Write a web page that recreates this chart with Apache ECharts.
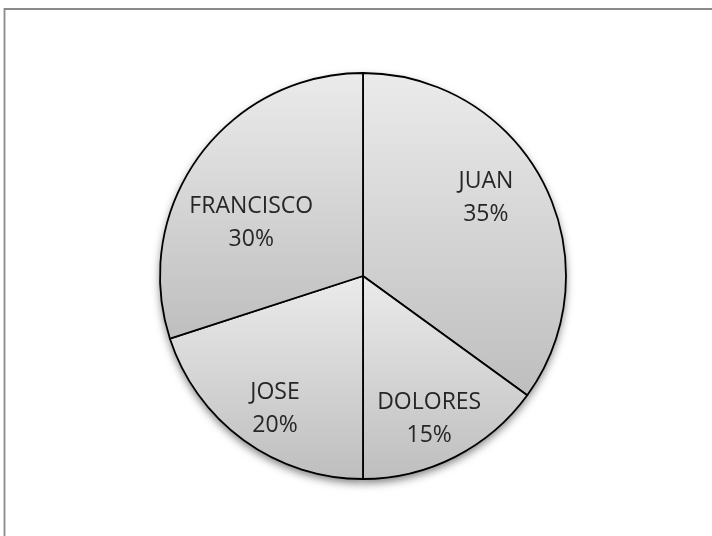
<!DOCTYPE html>
<html>
<head>
<meta charset="utf-8">
<script src="https://cdn.jsdelivr.net/npm/echarts@6/dist/echarts.min.js"></script>
<style>
html,body{margin:0;padding:0;background:#fff;}
#chart{width:712px;height:536px;}
</style>
</head>
<body>
<div id="chart"></div>
<script>
// Data
var names = ['JUAN', 'DOLORES', 'JOSE', 'FRANCISCO'];
var values = [35, 15, 20, 30];

// Label nudges (styling only)
var labelNudge = [[-9, -11], [-1, 11], [-1, 13], [8, 34]];

var chart = echarts.init(document.getElementById('chart'), null, {renderer: 'canvas'});

var pieData = names.map(function (n, i) { return {name: n, value: values[i]}; });

var fillGrad = new echarts.graphic.LinearGradient(0, 0, 0, 1, [
  {offset: 0, color: '#ebebeb'},
  {offset: 1, color: '#bebebe'}
]);

var center = [363, 276];

chart.setOption({
  animation: false,
  backgroundColor: '#ffffff',
  graphic: [{
    type: 'rect',
    shape: {x: 4.5, y: 9, width: 800, height: 600},
    style: {fill: 'none', stroke: '#8a8a8a', lineWidth: 1.8},
    silent: true,
    z: 0
  }],
  series: [
    {
      // shadow layer
      type: 'pie',
      center: center,
      radius: 203,
      startAngle: 90,
      clockwise: true,
      silent: true,
      z: 1,
      label: {show: false},
      labelLine: {show: false},
      itemStyle: {
        color: '#c8c8c8',
        shadowBlur: 8,
        shadowOffsetY: 4,
        shadowOffsetX: 0,
        shadowColor: 'rgba(0,0,0,0.5)'
      },
      data: pieData
    },
    {
      type: 'pie',
      center: center,
      radius: 203,
      startAngle: 90,
      clockwise: true,
      silent: true,
      z: 2,
      label: {show: false},
      labelLine: {show: false},
      itemStyle: {
        color: fillGrad,
        borderColor: '#000000',
        borderWidth: 1.8
      },
      data: pieData
    },
    {
      // label layer
      type: 'pie',
      center: center,
      radius: 290,
      startAngle: 90,
      clockwise: true,
      silent: true,
      z: 3,
      itemStyle: {color: 'rgba(0,0,0,0)', borderWidth: 0},
      label: {
        show: true,
        position: 'inside',
        formatter: function (p) { return p.name + '\n' + Math.round(p.percent) + '%'; },
        fontFamily: 'Open Sans',
        fontSize: 23,
        lineHeight: 33,
        color: '#262626',
        align: 'center'
      },
      labelLine: {show: false},
      labelLayout: function (p) {
        var n = labelNudge[p.dataIndex];
        return {dx: n[0], dy: n[1]};
      },
      data: pieData
    }
  ]
});
</script>
</body>
</html>
